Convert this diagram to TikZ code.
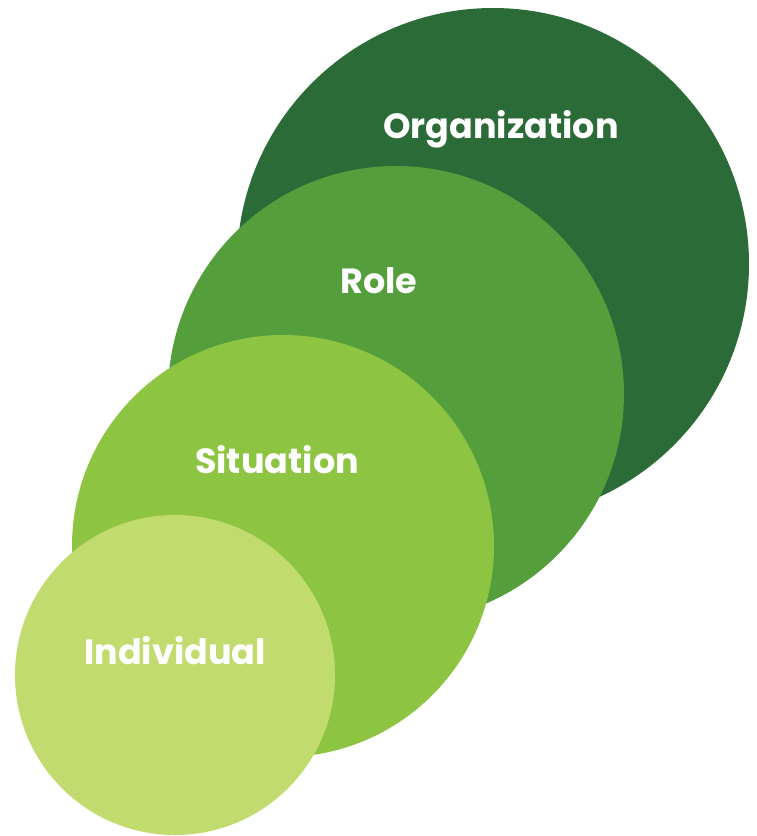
\documentclass[tikz,border=0pt]{standalone}
\usepackage{fontspec}
\setmainfont{Poppins}
\definecolor{orggreen}{HTML}{2B6B37}
\definecolor{rolegreen}{HTML}{549F3C}
\definecolor{sitgreen}{HTML}{8DC543}
\definecolor{indgreen}{HTML}{C1DB6E}
\tikzset{
  disc/.style={circle, inner sep=0pt, draw=none},
  lbl/.style={anchor=base, text=white, font=\bfseries\fontsize{35}{35}\selectfont}
}
\begin{document}
\begin{tikzpicture}[x=1pt,y=-1pt]
  \useasboundingbox (0,0) rectangle (757,836);

  %% circles, back to front
  \node[disc, fill=orggreen,  minimum size=512pt] (org) at (493,264) {};
  \node[disc, fill=rolegreen, minimum size=456pt] (role) at (396,394) {};
  \node[disc, fill=sitgreen,  minimum size=422pt] (sit) at (283,546) {};
  \node[disc, fill=indgreen,  minimum size=320pt] (ind) at (175,675) {};

  %% labels
  \node[lbl] (orglbl) at (501,138) {Organization};
  \node[lbl] (rolelbl) at (379,293) {Role};
  \node[lbl] (sitlbl) at (277,473) {Situation};
  \node[lbl] (indlbl) at (175,664) {Individual};

\end{tikzpicture}
\end{document}
